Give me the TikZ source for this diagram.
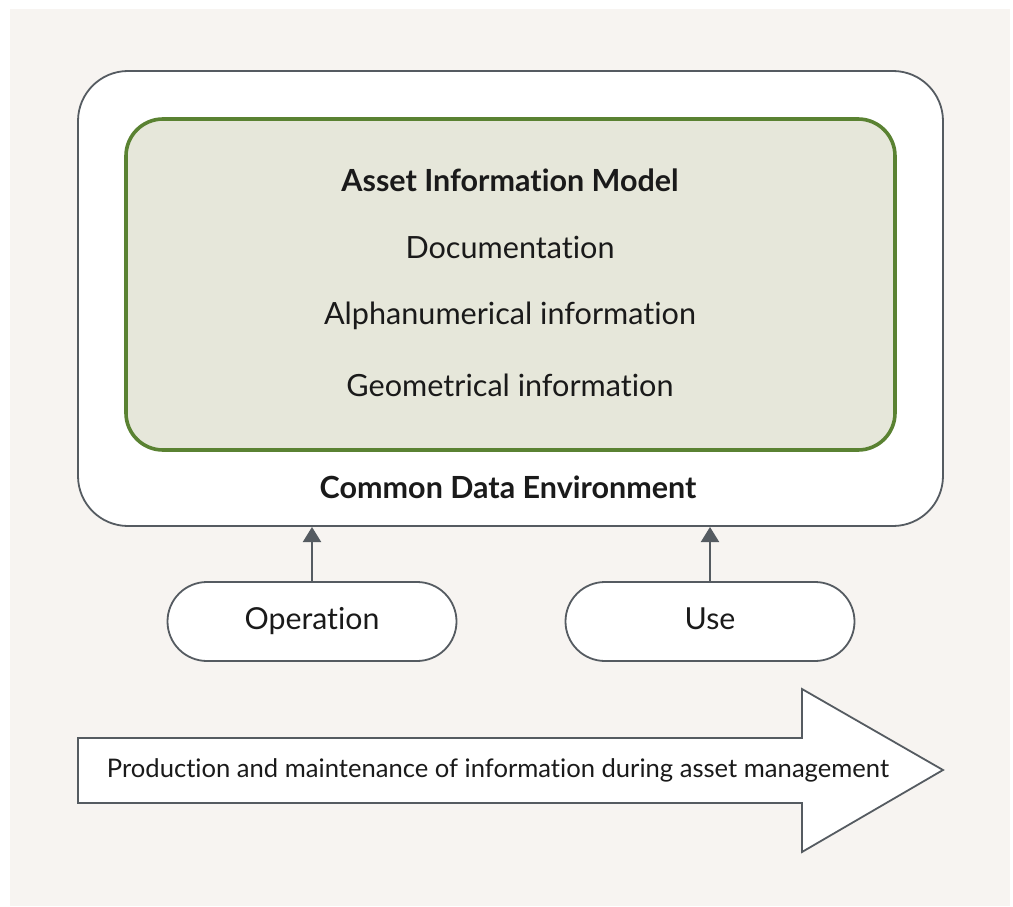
\documentclass[tikz,border=0pt]{standalone}
\usepackage{fontspec}
\setmainfont{Lato}[Ligatures=NoCommon]
\usetikzlibrary{arrows.meta}
\definecolor{bgbeige}{HTML}{F7F4F1}
\definecolor{strokegrey}{HTML}{555B61}
\definecolor{aimgreen}{HTML}{5A8232}
\definecolor{aimfill}{HTML}{E6E7DA}
\definecolor{txt}{HTML}{1A1A1A}
\tikzset{
  lbl/.style={text=txt, font=\fontsize{30.6}{34}\selectfont, inner sep=0pt},
  boldlbl/.style={lbl, font=\fontsize{30.5}{34}\selectfont\bfseries},
  pill/.style={draw=strokegrey, line width=1.8pt, fill=white, rounded corners=39.5pt,
    minimum width=289pt, minimum height=79pt, text=txt, font=\fontsize{30.3}{34}\selectfont,
    text height=22pt, text depth=6pt},
  uparrow/.style={draw=strokegrey, line width=2pt, -{Triangle[width=18pt,length=15pt]}},
}
\begin{document}
\begin{tikzpicture}[x=1pt,y=-1pt]
\useasboundingbox (0,0) rectangle (1013,907);
\fill[bgbeige] (10,9) rectangle (1010,906);
% outer CDE box
\draw[strokegrey, line width=1.8pt, fill=white, rounded corners=50pt] (78,71) rectangle (943,526);
\coordinate (cdeop) at (312,527);
\coordinate (cdeuse) at (710,527);
% inner AIM box
\draw[aimgreen, line width=3.6pt, fill=aimfill, rounded corners=37pt] (126,119) rectangle (895,450);
\node[boldlbl] (aim) at (510,180) {Asset Information Model};
\node[lbl] (doc) at (510,247) {Documentation};
\node[lbl] (alpha) at (510,316) {Alphanumerical information};
\node[lbl] (geo) at (510,385) {Geometrical information};
\node[boldlbl] (cde) at (508,487) {Common Data Environment};
% pills
\node[pill] (op) at (312,621.5) {Operation};
\node[pill] (use) at (710,621.5) {Use};
\draw[uparrow] (op.north) -- (cdeop);
\draw[uparrow] (use.north) -- (cdeuse);
% big arrow
\draw[strokegrey, line width=1.8pt, fill=white, line join=miter]
  (78,738) -- (802,738) -- (802,689) -- (943,770) -- (802,852) -- (802,803) -- (78,803) -- cycle;
\node[lbl, font=\fontsize{25.6}{30}\selectfont] (prod) at (498,770) {Production and maintenance of information during asset management};
\end{tikzpicture}
\end{document}
